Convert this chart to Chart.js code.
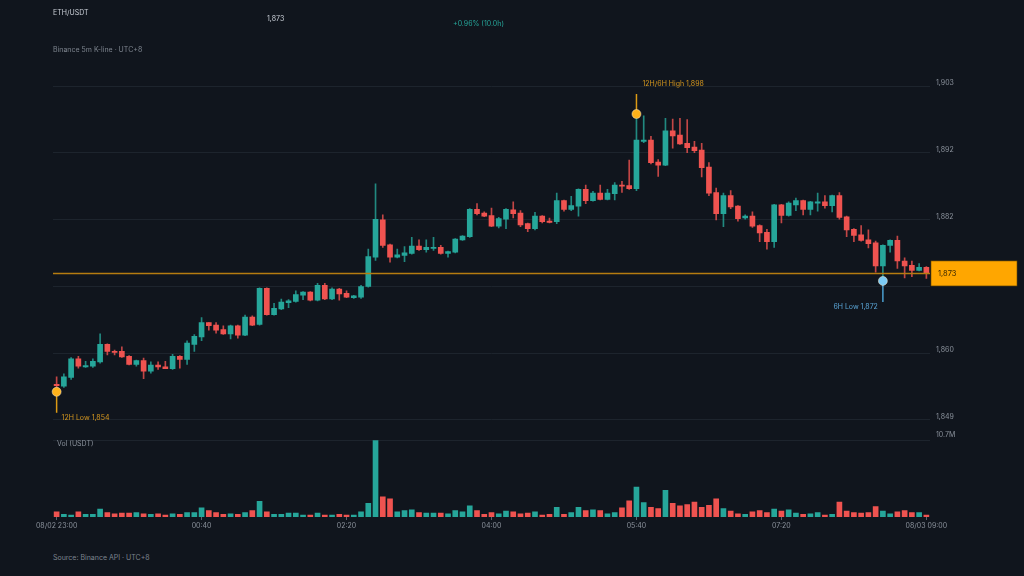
<!DOCTYPE html>
<html>
<head>
<meta charset="utf-8">
<script src="https://cdn.jsdelivr.net/npm/chart.js@4.4.1/dist/chart.umd.min.js"></script>
<style>
  body { margin: 0; background: #10151d; width: 1024px; height: 576px; overflow: hidden; position: relative; font-family: Inter, 'Noto Sans', sans-serif; }
  canvas { position: absolute; left: 0; }
  .t { position: absolute; font-size: 7px; line-height: 8px; white-space: nowrap; z-index: 2; }
</style>
</head>
<body>
<canvas id="price" width="1024" height="430" style="top:0"></canvas>
<canvas id="vol" width="1024" height="108" style="top:430px"></canvas>

<div class="t" style="left:53px;top:9px;color:#c9ced6">ETH/USDT</div>
<div class="t" style="left:267px;top:15px;color:#c9ced6">1,873</div>
<div class="t" style="left:453px;top:20px;color:#26a69a">+0.96% (10.0h)</div>
<div class="t" style="left:53px;top:46px;color:#7d848e">Binance 5m K-line · UTC+8</div>
<div class="t" style="left:57px;top:440px;color:#8b929c">Vol (USDT)</div>
<div class="t" style="left:53px;top:554px;color:#7d848e">Source: Binance API · UTC+8</div>

<script>
// 5m candles, 08/02 23:00 -> 08/03 09:00
const tickLabels = ['08/02 23:00', '00:40', '02:20', '04:00', '05:40', '07:20', '08/03 09:00'];
const tickEvery = 20;

const opens = [
  1855.1, 1854.8, 1856.2, 1859.2, 1857.9, 1858.0, 1858.7, 1861.5, 1860.4, 1860.4,
  1859.6, 1858.3, 1858.9, 1857.2, 1858.2, 1857.9, 1857.6, 1859.6, 1859.1, 1861.5,
  1862.7, 1865.0, 1864.6, 1863.9, 1863.2, 1864.5, 1863.0, 1865.9, 1864.7, 1870.5,
  1866.3, 1867.2, 1868.2, 1868.4, 1869.4, 1869.9, 1868.6, 1871.0, 1868.8, 1870.4,
  1869.7, 1869.0, 1869.1, 1870.8, 1875.5, 1881.5, 1877.5, 1875.5, 1875.8, 1876.1,
  1877.3, 1876.7, 1876.9, 1877.1, 1876.1, 1876.3, 1878.3, 1878.8, 1883.2, 1882.6,
  1882.2, 1880.5, 1881.6, 1883.1, 1882.6, 1880.9, 1880.1, 1882.1, 1881.3, 1881.2,
  1884.6, 1883.2, 1883.7, 1886.4, 1884.6, 1885.8, 1884.8, 1885.7, 1887.1, 1887.0,
  1886.5, 1894.1, 1894.3, 1890.8, 1890.3, 1895.8, 1895.1, 1893.8, 1893.2, 1892.7,
  1890.0, 1885.9, 1882.5, 1885.4, 1883.7, 1881.8, 1882.1, 1880.6, 1879.5, 1878.0,
  1883.9, 1882.2, 1883.9, 1884.6, 1883.2, 1884.2, 1884.4, 1883.8, 1885.4, 1882.0,
  1880.0, 1879.1, 1878.3, 1877.8, 1874.1, 1877.4, 1878.2, 1874.9, 1874.2, 1873.4,
  1873.9
];
const highs = [
  1856.3, 1856.8, 1859.4, 1859.6, 1858.8, 1859.2, 1863.2, 1861.6, 1860.6, 1861.1,
  1859.7, 1859.0, 1859.3, 1858.7, 1858.7, 1858.8, 1859.9, 1859.7, 1862.1, 1863.1,
  1865.8, 1865.0, 1865.0, 1864.5, 1864.6, 1864.6, 1866.2, 1866.1, 1870.6, 1870.6,
  1868.1, 1868.8, 1868.7, 1870.1, 1870.0, 1870.0, 1871.3, 1871.3, 1870.6, 1870.5,
  1870.1, 1869.4, 1871.0, 1876.8, 1887.3, 1882.3, 1877.6, 1876.8, 1877.2, 1878.7,
  1878.3, 1878.3, 1878.7, 1877.4, 1876.5, 1878.5, 1879.0, 1883.3, 1884.1, 1882.8,
  1883.4, 1881.9, 1883.3, 1884.4, 1883.0, 1881.0, 1882.7, 1882.2, 1881.8, 1885.8,
  1884.7, 1885.3, 1886.5, 1887.1, 1886.1, 1887.1, 1886.4, 1887.5, 1887.7, 1891.1,
  1898.5, 1898.2, 1894.9, 1891.2, 1897.8, 1897.7, 1897.8, 1897.6, 1894.1, 1893.8,
  1890.7, 1886.6, 1885.8, 1886.2, 1883.8, 1882.3, 1882.8, 1880.7, 1880.0, 1884.0,
  1884.0, 1884.4, 1885.0, 1884.7, 1884.5, 1885.8, 1885.4, 1885.5, 1885.9, 1882.1,
  1880.1, 1880.6, 1879.9, 1878.1, 1877.5, 1878.3, 1878.9, 1875.4, 1874.9, 1874.5,
  1874.0
];
const lows = [
  1853.9, 1854.6, 1855.9, 1857.7, 1857.8, 1857.8, 1858.5, 1859.8, 1859.8, 1859.4,
  1858.2, 1858.0, 1856.0, 1856.9, 1857.5, 1857.6, 1857.5, 1857.7, 1858.3, 1860.4,
  1862.1, 1863.8, 1863.3, 1863.1, 1862.4, 1862.5, 1862.9, 1864.5, 1864.6, 1866.2,
  1866.2, 1867.1, 1867.4, 1868.3, 1868.7, 1868.5, 1868.5, 1868.7, 1868.7, 1868.6,
  1869.0, 1868.9, 1868.9, 1870.7, 1875.0, 1877.1, 1874.7, 1875.4, 1874.8, 1876.0,
  1876.6, 1876.3, 1876.6, 1876.0, 1875.5, 1876.2, 1878.2, 1878.7, 1882.3, 1882.0,
  1880.4, 1880.2, 1880.1, 1881.8, 1880.4, 1879.6, 1879.9, 1881.0, 1881.0, 1880.9,
  1882.9, 1883.0, 1882.1, 1884.1, 1884.5, 1884.7, 1884.7, 1884.7, 1885.9, 1886.4,
  1886.2, 1893.9, 1890.5, 1888.5, 1890.2, 1893.0, 1893.6, 1892.3, 1892.3, 1888.4,
  1885.4, 1881.5, 1880.4, 1883.3, 1881.3, 1881.6, 1880.3, 1878.0, 1876.8, 1877.1,
  1881.0, 1882.1, 1883.0, 1882.3, 1882.3, 1882.9, 1883.4, 1882.8, 1881.6, 1878.8,
  1878.0, 1878.1, 1877.0, 1873.1, 1871.7, 1876.3, 1873.7, 1872.2, 1872.4, 1873.3,
  1872.1
];
const closes = [
  1854.9, 1856.3, 1859.2, 1858.0, 1858.1, 1858.8, 1861.5, 1860.4, 1860.2, 1859.5,
  1858.3, 1858.9, 1857.2, 1858.2, 1857.9, 1857.6, 1859.6, 1859.1, 1861.7, 1862.8,
  1865.0, 1864.5, 1863.8, 1863.2, 1864.5, 1863.0, 1865.9, 1864.6, 1870.5, 1866.3,
  1867.3, 1868.3, 1868.5, 1869.5, 1869.9, 1868.6, 1871.0, 1868.8, 1870.4, 1869.6,
  1869.1, 1869.3, 1870.8, 1875.6, 1881.6, 1877.4, 1875.5, 1875.9, 1876.2, 1877.3,
  1876.7, 1877.1, 1877.1, 1876.1, 1876.4, 1878.4, 1878.9, 1883.2, 1882.5, 1882.1,
  1880.5, 1881.7, 1883.2, 1882.5, 1880.7, 1880.1, 1882.1, 1881.2, 1881.1, 1884.6,
  1883.2, 1883.8, 1886.4, 1884.6, 1885.8, 1884.8, 1885.8, 1887.1, 1886.9, 1886.5,
  1894.3, 1894.3, 1890.7, 1890.3, 1895.8, 1895.0, 1893.7, 1893.1, 1892.6, 1889.9,
  1885.8, 1882.5, 1885.4, 1883.6, 1881.7, 1882.1, 1880.5, 1879.4, 1878.0, 1883.9,
  1882.2, 1884.2, 1884.6, 1883.2, 1884.4, 1884.4, 1883.8, 1885.4, 1881.9, 1879.9,
  1879.0, 1878.2, 1877.7, 1874.1, 1877.4, 1878.2, 1874.9, 1874.1, 1873.4, 1873.9,
  1872.9
];
// volume in millions USDT
const volumes = [
  0.73, 0.36, 0.27, 0.73, 0.36, 0.36, 1.09, 0.63, 0.45, 0.54,
  0.54, 0.63, 0.45, 0.36, 0.45, 0.27, 0.45, 0.36, 0.63, 0.63,
  1.27, 0.91, 0.63, 0.36, 0.45, 0.36, 0.63, 0.91, 2.18, 0.73,
  0.36, 0.36, 0.54, 0.54, 0.27, 0.27, 0.54, 0.27, 0.27, 0.36,
  0.27, 0.27, 0.73, 1.90, 10.7, 2.81, 2.54, 0.73, 0.91, 1.00,
  0.63, 0.54, 0.54, 0.54, 0.45, 0.91, 0.73, 1.54, 0.91, 0.36,
  0.63, 0.45, 0.82, 0.73, 0.45, 0.54, 0.73, 0.27, 0.36, 1.36,
  0.36, 0.63, 1.36, 0.91, 1.00, 0.91, 0.45, 0.63, 1.27, 2.27,
  4.17, 2.00, 1.36, 1.18, 3.72, 1.90, 1.54, 1.72, 2.09, 1.36,
  1.63, 2.54, 1.18, 0.82, 0.45, 0.36, 0.73, 0.91, 0.63, 1.09,
  0.82, 1.00, 0.54, 0.36, 0.45, 0.63, 0.27, 0.36, 2.09, 0.82,
  0.63, 0.54, 0.63, 1.45, 0.82, 0.45, 0.73, 0.91, 0.63, 0.63,
  0.27
];

// marked extremes
const markIndex = [80, 0, 114];
const markPrice = [1898.5, 1853.9, 1871.7];
const markText = ['12H/6H High 1,898', '12H Low 1,854', '6H Low 1,872'];

const UP = '#26a69a';
const DOWN = '#ef5350';
const GRID = '#1d242d';
const TICK = '#8b929c';

const labels = [];
for (let i = 0; i < closes.length; i++) {
  const m = (23 * 60 + i * 5) % 1440;
  labels.push(String(Math.floor(m / 60)).padStart(2, '0') + ':' + String(m % 60).padStart(2, '0'));
}
const colors = closes.map((c, i) => c >= opens[i] ? UP : DOWN);
const wickColors = closes.map((c, i) => c >= opens[i] ? 'rgba(38,166,154,0.8)' : 'rgba(239,83,80,0.8)');
const bodies = opens.map((o, i) => [o, closes[i]]);
const wicks = lows.map((l, i) => [l, highs[i]]);
const lastClose = closes[closes.length - 1];
const volMax = Math.max(...volumes);

const font = { family: 'Inter', size: 7 };

const priceOverlay = {
  id: 'priceOverlay',
  afterDatasetsDraw(chart) {
    const { ctx, chartArea, scales: { y } } = chart;
    const py = y.getPixelForValue(lastClose);
    ctx.save();
    ctx.strokeStyle = '#b57c10';
    ctx.lineWidth = 1.6;
    ctx.beginPath();
    ctx.moveTo(chartArea.left, py);
    ctx.lineTo(chartArea.right, py);
    ctx.stroke();
    ctx.restore();
  },
  afterDraw(chart) {
    const { ctx, chartArea, scales: { x, y } } = chart;
    const py = y.getPixelForValue(lastClose);
    ctx.save();
    // last price tag
    ctx.fillStyle = '#ffa600';
    ctx.fillRect(chartArea.right + 1, py - 12.5, 86, 25);
    ctx.strokeStyle = '#6b4a00';
    ctx.lineWidth = 0.6;
    ctx.strokeRect(chartArea.right + 1, py - 12.5, 86, 25);
    ctx.fillStyle = '#3a2800';
    ctx.font = '7.5px Inter';
    ctx.textBaseline = 'middle';
    ctx.fillText(Math.round(lastClose).toLocaleString('en-US'), chartArea.right + 8, py);

    // high / low markers
    markIndex.forEach((idx, k) => {
      const mx = x.getPixelForValue(idx);
      const my = y.getPixelForValue(markPrice[k]);
      const isHigh = k === 0;
      const blue = k === 2;
      const dot = blue ? '#7ccbf5' : '#ffb21a';
      const stem = blue ? '#4a9fd0' : '#dc9a14';
      ctx.strokeStyle = stem;
      ctx.lineWidth = 1.5;
      ctx.beginPath();
      ctx.moveTo(mx, my);
      ctx.lineTo(mx, isHigh ? my - 20 : my + 21);
      ctx.stroke();
      ctx.beginPath();
      ctx.arc(mx, my, 4.5, 0, Math.PI * 2);
      ctx.fillStyle = dot;
      ctx.fill();
      ctx.strokeStyle = 'rgba(255,240,210,0.6)';
      ctx.lineWidth = 0.8;
      ctx.stroke();

      ctx.fillStyle = blue ? '#5aa5d6' : '#d4961e';
      ctx.font = '7px Inter';
      ctx.textBaseline = 'middle';
      if (isHigh) {
        ctx.textAlign = 'left';
        ctx.fillText(markText[k], mx + 6, my - 30);
      } else if (blue) {
        ctx.textAlign = 'right';
        ctx.fillText(markText[k], mx - 5, my + 26);
      } else {
        ctx.textAlign = 'left';
        ctx.fillText(markText[k], mx + 5, my + 26);
      }
    });
    ctx.restore();
  }
};

new Chart(document.getElementById('price'), {
  type: 'bar',
  data: {
    labels: labels,
    datasets: [
      { data: wicks, backgroundColor: wickColors, barThickness: 1, grouped: false, order: 2 },
      { data: bodies, backgroundColor: colors, barThickness: 5, minBarLength: 1, grouped: false, order: 1 },
    ],
  },
  options: {
    responsive: false,
    animation: false,
    layout: { padding: { top: 86, bottom: 9, left: 53, right: 0 } },
    plugins: { legend: { display: false }, tooltip: { enabled: false } },
    scales: {
      x: { display: false, offset: true },
      y: {
        position: 'right',
        min: 1849.4,
        max: 1903,
        afterFit: (s) => { s.width = 94; },
        border: { display: false },
        grid: { color: GRID, drawTicks: false },
        ticks: {
          count: 6,
          padding: 6,
          labelOffset: -3,
          color: TICK,
          font: font,
          callback: (v) => Math.abs(v - lastClose) < 3 ? '' : Math.round(v).toLocaleString('en-US'),
        },
      },
    },
  },
  plugins: [priceOverlay],
});

new Chart(document.getElementById('vol'), {
  type: 'bar',
  data: {
    labels: labels,
    datasets: [{ data: volumes, backgroundColor: colors, barThickness: 5 }],
  },
  options: {
    responsive: false,
    animation: false,
    layout: { padding: { top: 8, bottom: 0, left: 53, right: 0 } },
    plugins: { legend: { display: false }, tooltip: { enabled: false } },
    scales: {
      x: {
        offset: true,
        afterFit: (s) => { s.height = 21; },
        border: { display: false },
        grid: {
          offset: false,
          drawOnChartArea: false,
          drawTicks: true,
          tickLength: 3,
          color: (c) => c.index % tickEvery === 0 ? '#5c636d' : 'rgba(0,0,0,0)',
        },
        ticks: {
          autoSkip: false,
          maxRotation: 0,
          padding: 2,
          color: TICK,
          font: font,
          callback: (v, i) => i % tickEvery === 0 ? tickLabels[i / tickEvery] : '',
        },
      },
      y: {
        position: 'right',
        min: 0,
        max: volMax,
        afterFit: (s) => { s.width = 94; },
        afterBuildTicks: (s) => { s.ticks = [{ value: volMax }]; },
        border: { display: false },
        grid: { color: GRID, drawTicks: false },
        ticks: {
          padding: 6,
          labelOffset: -5,
          color: TICK,
          font: font,
          callback: (v) => v.toFixed(1) + 'M',
        },
      },
    },
  },
});
</script>
</body>
</html>
